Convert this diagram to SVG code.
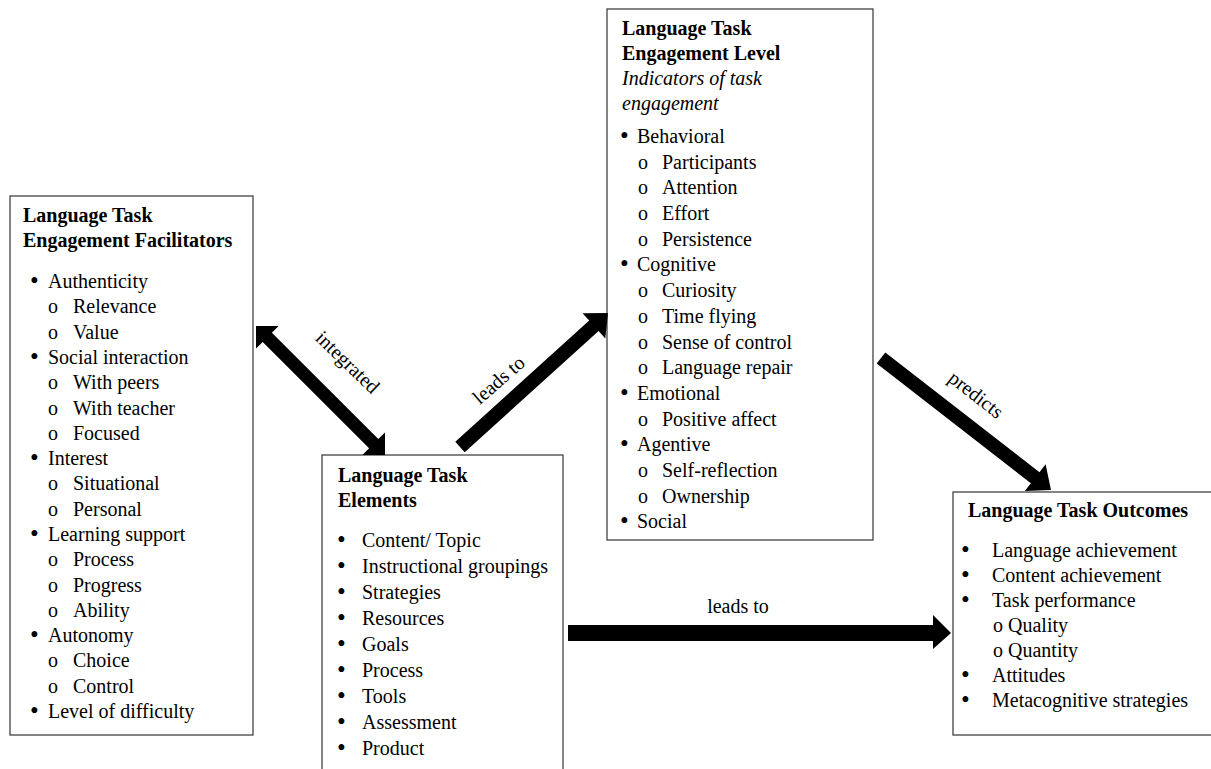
<svg xmlns="http://www.w3.org/2000/svg" width="1211" height="769" viewBox="0 0 1211 769">
<style>
text{font-family:"Liberation Serif","Times New Roman",serif;font-size:20px;fill:#000}
.t{font-weight:bold}
.i{font-style:italic}
.b{font-size:25px}
.box{fill:#fff;stroke:#444;stroke-width:1.3}
.arr{fill:#000;stroke:none}
</style>
<rect x="0" y="0" width="1211" height="769" fill="#fff"/>
<g id="facilitators">
<rect class="box" x="10" y="196" width="243" height="539"/>
<text class="t" x="23" y="222">Language Task</text>
<text class="t" x="23" y="247">Engagement Facilitators</text>
<g>
<text class="b" x="30" y="289">•</text><text x="48" y="288">Authenticity</text>
<text x="48" y="313">o</text><text x="73" y="313">Relevance</text>
<text x="48" y="339">o</text><text x="73" y="339">Value</text>
<text class="b" x="30" y="365">•</text><text x="48" y="364">Social interaction</text>
<text x="48" y="389">o</text><text x="73" y="389">With peers</text>
<text x="48" y="415">o</text><text x="73" y="415">With teacher</text>
<text x="48" y="440">o</text><text x="73" y="440">Focused</text>
<text class="b" x="30" y="466">•</text><text x="48" y="465">Interest</text>
<text x="48" y="490">o</text><text x="73" y="490">Situational</text>
<text x="48" y="516">o</text><text x="73" y="516">Personal</text>
<text class="b" x="30" y="542">•</text><text x="48" y="541">Learning support</text>
<text x="48" y="566">o</text><text x="73" y="566">Process</text>
<text x="48" y="592">o</text><text x="73" y="592">Progress</text>
<text x="48" y="617">o</text><text x="73" y="617">Ability</text>
<text class="b" x="30" y="643">•</text><text x="48" y="642">Autonomy</text>
<text x="48" y="667">o</text><text x="73" y="667">Choice</text>
<text x="48" y="693">o</text><text x="73" y="693">Control</text>
<text class="b" x="30" y="719">•</text><text x="48" y="718">Level of difficulty</text>
</g>
</g>
<g id="elements">
<rect class="box" x="322" y="455" width="241" height="330"/>
<text class="t" x="338" y="482">Language Task</text>
<text class="t" x="338" y="507">Elements</text>
<text class="b" x="337" y="548">•</text><text x="362" y="547">Content/ Topic</text>
<text class="b" x="337" y="574">•</text><text x="362" y="573">Instructional groupings</text>
<text class="b" x="337" y="600">•</text><text x="362" y="599">Strategies</text>
<text class="b" x="337" y="626">•</text><text x="362" y="625">Resources</text>
<text class="b" x="337" y="652">•</text><text x="362" y="651">Goals</text>
<text class="b" x="337" y="678">•</text><text x="362" y="677">Process</text>
<text class="b" x="337" y="704">•</text><text x="362" y="703">Tools</text>
<text class="b" x="337" y="730">•</text><text x="362" y="729">Assessment</text>
<text class="b" x="337" y="756">•</text><text x="362" y="755">Product</text>
</g>
<g id="level">
<rect class="box" x="607" y="9" width="266" height="531"/>
<text class="t" x="622" y="35">Language Task</text>
<text class="t" x="622" y="60">Engagement Level</text>
<text class="i" x="622" y="85">Indicators of task</text>
<text class="i" x="622" y="110">engagement</text>
<text class="b" x="620" y="144">•</text><text x="637" y="143">Behavioral</text>
<text x="638" y="169">o</text><text x="662" y="169">Participants</text>
<text x="638" y="194">o</text><text x="662" y="194">Attention</text>
<text x="638" y="220">o</text><text x="662" y="220">Effort</text>
<text x="638" y="246">o</text><text x="662" y="246">Persistence</text>
<text class="b" x="620" y="272">•</text><text x="637" y="271">Cognitive</text>
<text x="638" y="297">o</text><text x="662" y="297">Curiosity</text>
<text x="638" y="323">o</text><text x="662" y="323">Time flying</text>
<text x="638" y="349">o</text><text x="662" y="349">Sense of control</text>
<text x="638" y="374">o</text><text x="662" y="374">Language repair</text>
<text class="b" x="620" y="401">•</text><text x="637" y="400">Emotional</text>
<text x="638" y="426">o</text><text x="662" y="426">Positive affect</text>
<text class="b" x="620" y="452">•</text><text x="637" y="451">Agentive</text>
<text x="638" y="477">o</text><text x="662" y="477">Self-reflection</text>
<text x="638" y="503">o</text><text x="662" y="503">Ownership</text>
<text class="b" x="620" y="529">•</text><text x="637" y="528">Social</text>
</g>
<g id="outcomes">
<rect class="box" x="953" y="492" width="262" height="243"/>
<text class="t" x="968" y="517">Language Task Outcomes</text>
<text class="b" x="961" y="558">•</text><text x="992" y="557">Language achievement</text>
<text class="b" x="961" y="583">•</text><text x="992" y="582">Content achievement</text>
<text class="b" x="961" y="608">•</text><text x="992" y="607">Task performance</text>
<text x="993" y="632">o Quality</text>
<text x="993" y="657">o Quantity</text>
<text class="b" x="961" y="683">•</text><text x="992" y="682">Attitudes</text>
<text class="b" x="961" y="708">•</text><text x="992" y="707">Metacognitive strategies</text>
</g>
<g id="connectors">
<polygon class="arr" points="256,326 256,348.6 262.7,341.9 369.1,448.3 362.4,455 385,455 385,432.4 378.3,439.1 271.9,332.7 278.6,326"/>
<text x="0" y="0" text-anchor="middle" transform="translate(343,367) rotate(44)">integrated</text>
<polygon class="arr" points="464.7,452.2 598.6,330.9 605.3,338.4 608,313 582.5,313.2 589.2,320.6 455.3,441.8"/>
<text x="0" y="0" text-anchor="middle" transform="translate(503,385) rotate(-41)">leads to</text>
<polygon class="arr" points="876.7,363.5 1030.9,483.2 1024.8,491.1 1051,490 1045.6,464.3 1039.5,472.2 885.3,352.5"/>
<text x="0" y="0" text-anchor="middle" transform="translate(972,400) rotate(38)">predicts</text>
<polygon class="arr" points="568,625 933,625 933,615 951,633 933,649 933,641 568,641"/>
<text x="738" y="613" text-anchor="middle">leads to</text>
</g>
</svg>
